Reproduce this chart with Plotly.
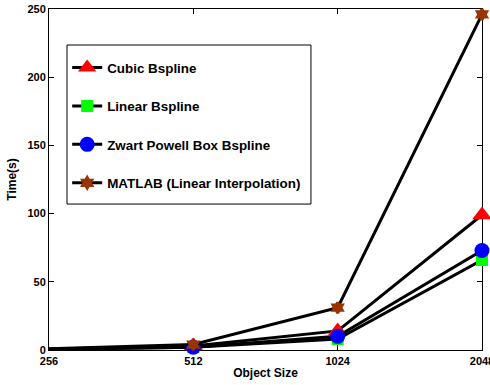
import plotly.graph_objects as go

# Object sizes (x) and run times in seconds for each method
sizes = [256, 512, 1024, 2048]
cubic_bspline = [0.8, 3, 14, 99]
linear_bspline = [0.5, 2, 8, 66]
zwart_bspline = [0.6, 2, 10, 73]
matlab_linear = [1, 4, 31, 246]

series = [
    ("Cubic Bspline", cubic_bspline, "triangle-up", "#ff0000", 17, 0),
    ("Linear Bspline", linear_bspline, "square", "#00ff00", 12, 0),
    ("Zwart Powell Box Bspline", zwart_bspline, "circle", "#0000ff", 15, 0),
    ("MATLAB (Linear Interpolation)", matlab_linear, "hexagram", "#993300", 8, 3),
]

fig = go.Figure()
for i, (name, vals, sym, col, sz, lw) in enumerate(series):
    fig.add_trace(go.Scatter(
        x=sizes, y=vals, name=name, mode="lines+markers",
        line=dict(color="black", width=3),
        marker=dict(symbol=sym, color=col, size=sz, line=dict(width=lw, color=col)),
        legendgroup=f"g{i}", cliponaxis=False,
    ))

# Legend frame, drawn as a box so it can have some padding around the entries
fig.add_shape(
    type="rect", xref="paper", yref="paper",
    x0=0.0416, x1=0.605, y0=0.428, y1=0.8944,
    line=dict(color="black", width=1), fillcolor="white", layer="below",
)

font = "Liberation Sans, Arial, sans-serif"
fig.update_layout(
    width=490, height=385,
    margin=dict(l=49, r=8, t=9, b=35),
    paper_bgcolor="white", plot_bgcolor="white",
    font=dict(family=font, size=11, color="black"),
    showlegend=True,
    legend=dict(
        x=0.042, y=0.873, xanchor="left", yanchor="top",
        bgcolor="rgba(0,0,0,0)", borderwidth=0,
        font=dict(family=font, size=13.4, color="black", weight="bold"),
        tracegroupgap=18, itemwidth=30,
    ),
    xaxis=dict(
        type="log", range=[2.40824, 3.31133], automargin=False,
        tickvals=sizes, ticktext=[str(s) for s in sizes],
        ticks="inside", ticklen=5, tickcolor="black",
        ticklabeloverflow="allow", ticklabelstandoff=1,
        showline=True, linecolor="black", linewidth=1, mirror="ticks",
        showgrid=False, zeroline=False,
        tickfont=dict(family=font, size=11, weight="bold"),
        title=dict(text="Object Size", font=dict(family=font, size=12, weight="bold"), standoff=2),
        layer="below traces",
    ),
    yaxis=dict(
        range=[0, 250], tickvals=[0, 50, 100, 150, 200, 250], automargin=False,
        ticks="inside", ticklen=5, tickcolor="black",
        ticklabeloverflow="allow",
        showline=True, linecolor="black", linewidth=1, mirror="ticks",
        showgrid=False, zeroline=False,
        tickfont=dict(family=font, size=11, weight="bold"),
        title=dict(text="Time(s)", font=dict(family=font, size=12, weight="bold"), standoff=8),
        layer="below traces",
    ),
)

fig.write_html("out.html")
